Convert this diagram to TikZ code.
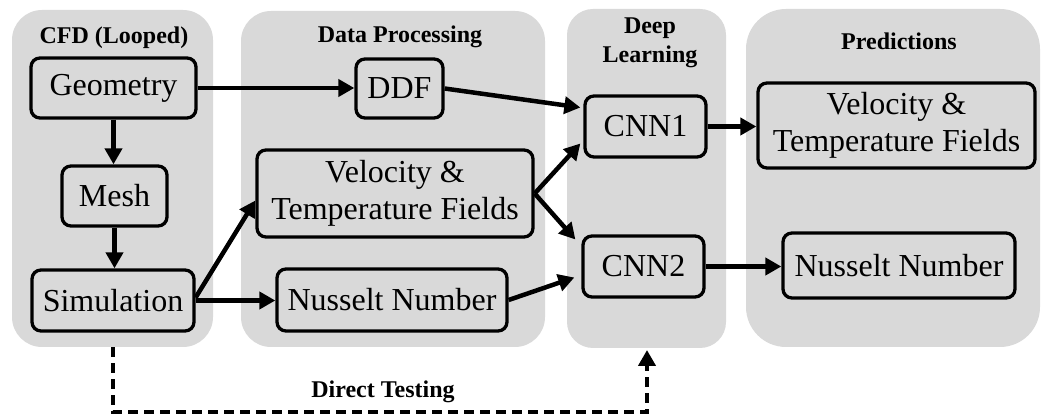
\documentclass[tikz,border=0pt]{standalone}
\usepackage{fontspec}
\setmainfont{Liberation Serif}
\usetikzlibrary{arrows.meta}
\definecolor{panelgrey}{HTML}{D9D9D9}
\tikzset{
  panel/.style={fill=panelgrey, draw=none, rounded corners=30pt, inner sep=0pt},
  stage/.style={font=\fontsize{24}{29}\selectfont\bfseries, align=center, inner sep=0pt},
  blk/.style={draw=black, line width=3.3pt, rounded corners=9pt, align=center, inner sep=0pt,
              font=\fontsize{32}{37}\selectfont},
  flow/.style={line width=4.5pt, -{Triangle[length=16pt,width=17pt]}},
  testflow/.style={line width=4.5pt, dash pattern=on 10pt off 6pt, -{Triangle[length=16pt,width=17pt]}}
}
\begin{document}
\begin{tikzpicture}[x=1pt, y=-1pt]
\useasboundingbox (0,0) rectangle (1042,419);

% stage backgrounds
\node[panel, minimum width=201pt, minimum height=337pt] (pcfd)  at (112.5,178.5) {};
\node[panel, minimum width=304pt, minimum height=336pt] (pdata) at (393,179) {};
\node[panel, minimum width=159pt, minimum height=339pt, rounded corners=26pt] (pdeep) at (646.5,178.5) {};
\node[panel, minimum width=294pt, minimum height=338pt, rounded corners=40pt] (ppred) at (893,178) {};

% stage titles
\node[stage] (tcfd)  at (114,38) {CFD (Looped)};
\node[stage] (tdata) at (400,37) {Data Processing};
\node[stage] (tdeep) at (650,43) {Deep\\Learning};
\node[stage] (tpred) at (899,41) {Predictions};

% CFD loop
\node[blk, minimum width=165pt, minimum height=60pt] (geo)  at (113.5,88) {Geometry};
\node[blk, minimum width=105pt, minimum height=60pt] (mesh) at (114.5,196) {Mesh};
\node[blk, minimum width=162pt, minimum height=61pt] (sim)  at (113,300.5) {Simulation};

% data processing
\node[blk, minimum width=87pt,  minimum height=59pt] (ddf)  at (399.5,88.5) {DDF};
\node[blk, minimum width=276pt, minimum height=87pt] (vdp)  at (395,193.5) {Velocity \&\\Temperature Fields};
\node[blk, minimum width=230pt, minimum height=62pt] (ndp)  at (392,300) {Nusselt Number};

% deep learning
\node[blk, minimum width=121pt, minimum height=61pt] (cnn1) at (645.5,126.5) {CNN1};
\node[blk, minimum width=121pt, minimum height=61pt] (cnn2) at (643.5,266.5) {CNN2};

% predictions
\node[blk, minimum width=277pt, minimum height=85pt] (vpr)  at (896.5,125.5) {Velocity \&\\Temperature Fields};
\node[blk, minimum width=232pt, minimum height=65pt] (npr)  at (899,265.5) {Nusselt Number};

% connectors
\draw[flow] (geo.east) -- (ddf.west |- geo.east);
\draw[flow] (geo.south) -- (mesh.north -| geo.south);
\draw[flow] (mesh.south) -- (sim.north -| mesh.south);
\draw[flow] ([yshift=3pt]sim.east) -- ([yshift=-7pt]vdp.west);
\draw[flow] (sim.east) -- (ndp.west |- sim.east);
\draw[flow] (ddf.east) -- ([xshift=-3pt,yshift=19pt]cnn1.west);
\draw[flow] (vdp.east) -- ([xshift=-3pt,yshift=-17pt]cnn1.west);
\draw[flow] (vdp.east) -- ([xshift=-6pt,yshift=27pt]cnn2.west);
\draw[flow] (ndp.east) -- ([xshift=-7pt,yshift=-11pt]cnn2.west);
\draw[flow] (cnn1.east) -- (vpr.west |- cnn1.east);
\draw[flow] (cnn2.east) -- (npr.west |- cnn2.east);

% direct testing bypass
\coordinate (dtstart) at (sim.south |- pcfd.south);
\coordinate (dtleft)  at (113,412);
\coordinate (dtright) at (647,412);
\coordinate (dtend)   at (647,350);
\draw[testflow] (dtstart) -- (dtleft) -- (dtright) -- (dtend);
\node[stage] (tdirect) at (383,392) {Direct Testing};
\end{tikzpicture}
\end{document}
